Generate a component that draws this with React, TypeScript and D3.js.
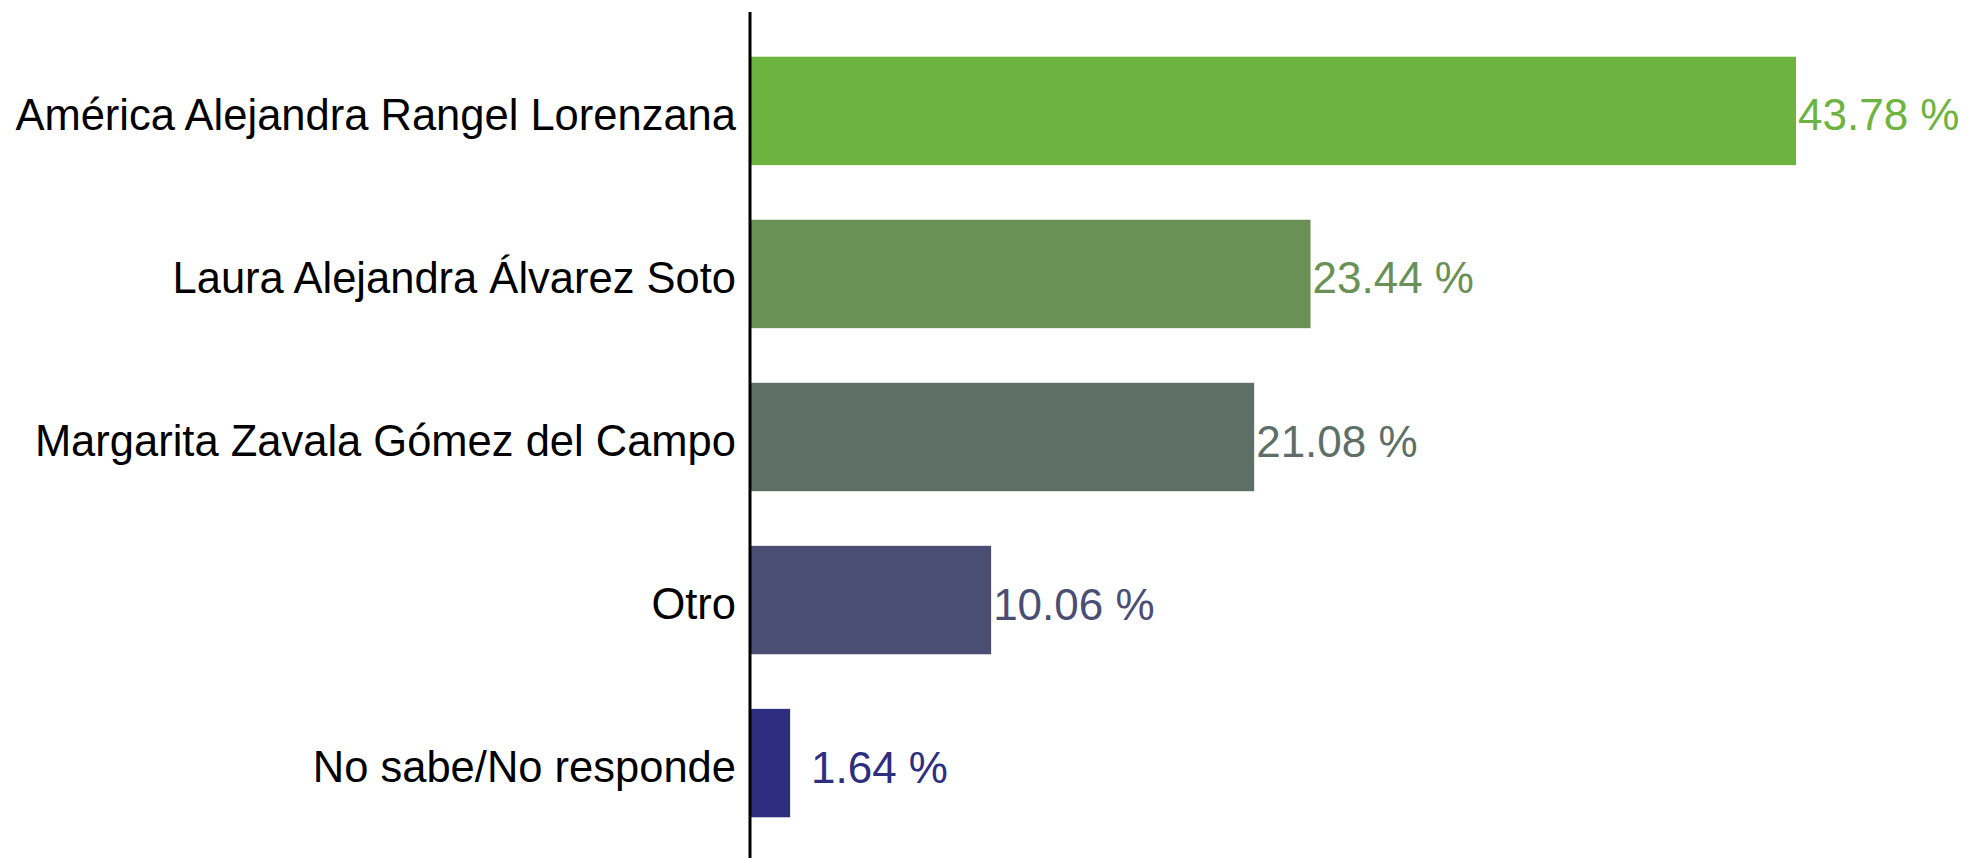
import React from "react";
import * as d3 from "d3";

const categories = [
  "América Alejandra Rangel Lorenzana",
  "Laura Alejandra Álvarez Soto",
  "Margarita Zavala Gómez del Campo",
  "Otro",
  "No sabe/No responde",
];
const values = [43.78, 23.44, 21.08, 10.06, 1.64];
const colors = ["#6db33f", "#6a9155", "#5e6f67", "#4b4e73", "#2e2e80"];

const W = 1967;
const H = 858;
const margin = { left: 751, right: 0, top: 22, bottom: 0 };

export default function App() {
  const x = d3.scaleLinear().domain([0, 1]).range([margin.left, margin.left + 23.87]);
  const y = d3
    .scaleBand<string>()
    .domain(categories)
    .range([29, 845])
    .paddingInner(0.335)
    .paddingOuter(0.17);
  const x0 = x(0);
  return (
    <svg
      width={W}
      height={H}
      style={{ position: "absolute", left: 0, top: 0, background: "#fff" }}
      fontFamily="'Liberation Sans', Arial, sans-serif"
    >
      {categories.map((c, i) => {
        const yy = y(c)!;
        const bw = y.bandwidth();
        const xe = x(values[i]);
        const lx = Math.max(xe + 2, x0 + 60);
        return (
          <g key={c}>
            <rect x={x0} y={yy} width={xe - x0} height={bw} fill={colors[i]} />
            <text
              x={x0 - 15}
              y={yy + bw / 2 + 4}
              textAnchor="end"
              dominantBaseline="central"
              fontSize={43.5}
              fill="#000"
            >
              {c}
            </text>
            <text
              x={lx}
              y={yy + bw / 2 + 4}
              dominantBaseline="central"
              fontSize={44}
              fill={colors[i]}
            >
              {values[i].toFixed(2)} %
            </text>
          </g>
        );
      })}
      <line x1={x0 - 1} x2={x0 - 1} y1={12} y2={H} stroke="#000" strokeWidth={3} />
    </svg>
  );
}
